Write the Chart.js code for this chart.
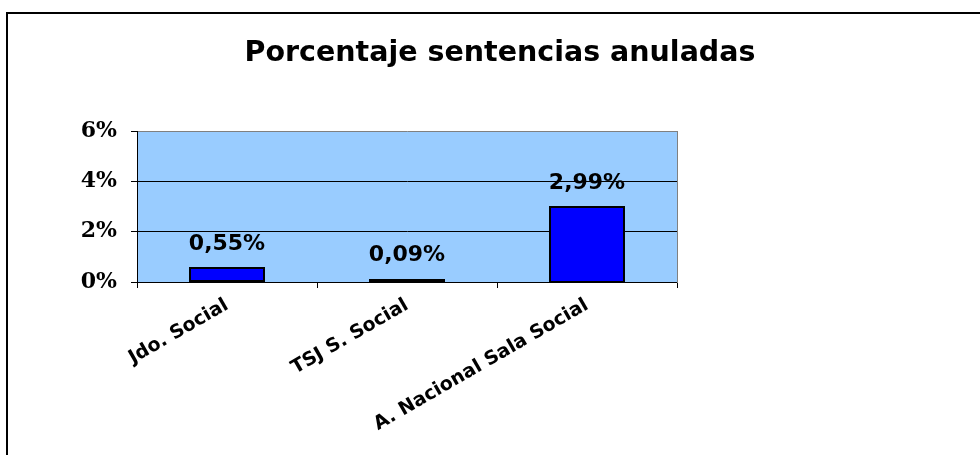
<!DOCTYPE html>
<html><head><meta charset="utf-8">
<script src="https://cdn.jsdelivr.net/npm/chart.js@4"></script>
<style>
html,body{margin:0;padding:0;background:#fff;}
#wrap{position:relative;width:980px;height:455px;overflow:hidden;}
#frame{position:absolute;left:6px;top:12px;width:990px;height:460px;border-left:2px solid #000;border-top:2px solid #000;box-sizing:border-box;}
canvas{position:absolute;left:0;top:0;}
</style></head><body>
<div id="wrap"><div id="frame"></div><canvas id="c" width="980" height="455"></canvas></div>
<script>
const chartTitle = 'Porcentaje sentencias anuladas';
const categories = ['Jdo. Social', 'TSJ S. Social', 'A. Nacional Sala Social'];
const percentages = [0.55, 0.09, 2.99];
const valueLabels = ['0,55%', '0,09%', '2,99%'];
const yMin = 0, yMax = 6, yStep = 2;

const plotBg = {
  id: 'plotBg',
  beforeDraw(chart) {
    const {ctx, chartArea: a} = chart;
    ctx.save();
    ctx.fillStyle = '#99CCFF';
    ctx.fillRect(a.left, a.top, a.right - a.left, a.bottom - a.top);
    ctx.restore();
  }
};
const barOutlineAndLabels = {
  id: 'barOutlineAndLabels',
  afterDatasetsDraw(chart) {
    const {ctx} = chart;
    const meta = chart.getDatasetMeta(0);
    ctx.save();
    ctx.strokeStyle = '#000';
    ctx.lineWidth = 2;
    meta.data.forEach(el => {
      const p = el.getProps(['x', 'y', 'base', 'width'], true);
      ctx.strokeRect(Math.round(p.x - p.width / 2), Math.round(p.y), Math.round(p.width), Math.round(p.base - p.y));
    });
    ctx.font = 'bold 22px "DejaVu Sans"';
    ctx.fillStyle = '#000';
    ctx.textAlign = 'center';
    ctx.textBaseline = 'middle';
    meta.data.forEach((el, i) => {
      ctx.fillText(valueLabels[i], el.x, el.y - 24);
    });
    ctx.restore();
  }
};

new Chart(document.getElementById('c'), {
  type: 'bar',
  data: {
    labels: categories,
    datasets: [{
      data: percentages,
      backgroundColor: '#0000FF',
      borderWidth: 0,
      categoryPercentage: 1,
      barPercentage: 0.41
    }]
  },
  options: {
    responsive: false,
    animation: false,
    layout: {padding: {left: 20, right: 0, top: 0, bottom: 0}},
    plugins: {
      legend: {display: false},
      tooltip: {enabled: false},
      title: {
        display: true,
        text: chartTitle,
        color: '#000',
        font: {family: 'DejaVu Sans', weight: 'bold', size: 28.5},
        padding: {top: 36, bottom: 61}
      }
    },
    scales: {
      x: {
        grid: {offset: true, drawOnChartArea: false, tickLength: 6, color: '#000'},
        border: {color: '#000', width: 1},
        ticks: {
          maxRotation: 30, minRotation: 30, autoSkip: false,
          color: '#000', padding: 6,
          font: {family: 'DejaVu Sans', weight: 'bold', size: 19}
        },
        afterFit: s => { s.height = 173; }
      },
      y: {
        min: yMin, max: yMax,
        ticks: {
          stepSize: yStep,
          callback: v => v + '%',
          color: '#000', padding: 14,
          font: {family: 'DejaVu Serif', weight: 'bold', size: 22}
        },
        grid: {
          color: c => (c.tick && c.tick.value === yMax) ? '#808080' : '#000',
          tickColor: '#000',
          tickLength: 6
        },
        border: {color: '#000', width: 1},
        afterFit: s => { s.width = 117; }
      },
      y2: {
        position: 'right',
        display: true,
        grid: {display: false},
        ticks: {display: false},
        border: {display: true, color: '#808080', width: 1},
        afterFit: s => { s.width = 303; }
      }
    }
  },
  plugins: [plotBg, barOutlineAndLabels]
});
</script>
</body></html>
